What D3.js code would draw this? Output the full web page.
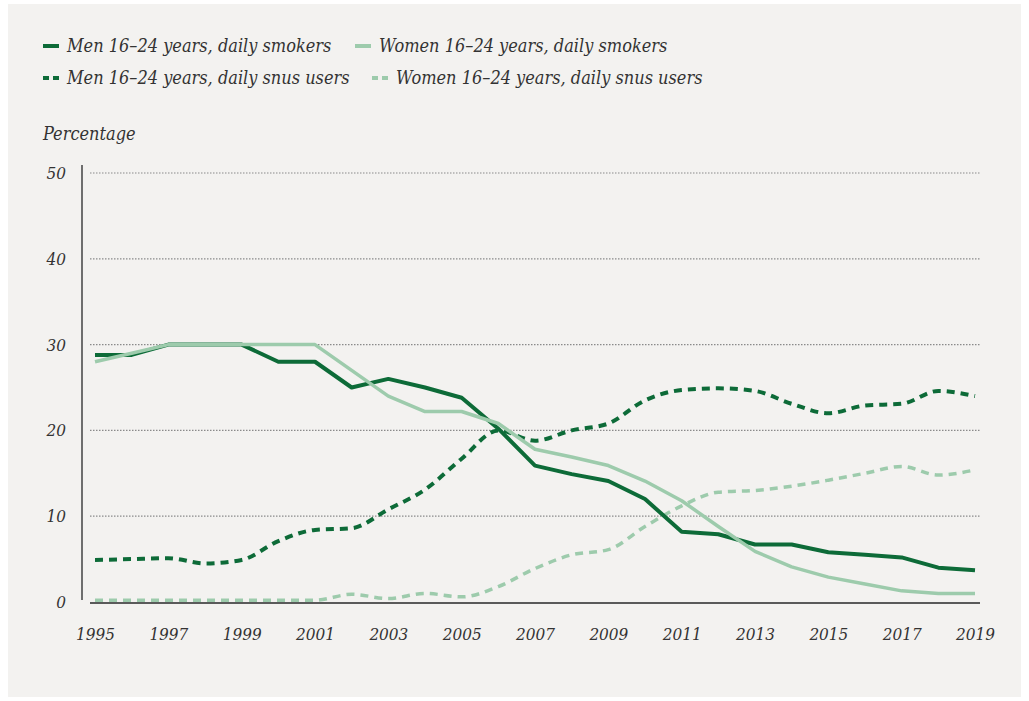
<!DOCTYPE html>
<html>
<head>
<meta charset="utf-8">
<script src="https://cdn.jsdelivr.net/npm/d3@7"></script>
<style>
    html, body { margin: 0; padding: 0; background: #ffffff; }
    svg { display: block; }
    text { font-family: "DejaVu Serif Condensed", "DejaVu Serif", serif; font-style: italic; fill: #333333; }
</style>
</head>
<body>
<div id="chart"></div>
<script>
(function () {

    'use strict';

    var years = [1995, 1996, 1997, 1998, 1999, 2000, 2001, 2002, 2003, 2004, 2005, 2006,
        2007, 2008, 2009, 2010, 2011, 2012, 2013, 2014, 2015, 2016, 2017, 2018, 2019];

    var menSmokers = [28.8, 28.8, 30, 30, 30, 28, 28, 25, 26, 25, 23.8, 20.2,
        15.9, 14.9, 14.1, 12, 8.2, 7.9, 6.7, 6.7, 5.8, 5.5, 5.2, 4.0, 3.7];
    var womenSmokers = [28, 29, 30, 30, 30, 30, 30, 27, 24, 22.2, 22.2, 20.8,
        17.8, 16.9, 15.9, 14.1, 11.8, 8.8, 5.9, 4.1, 2.9, 2.1, 1.3, 1.0, 1.0];
    var menSnus = [4.9, 5, 5.1, 4.5, 4.9, 7.1, 8.4, 8.6, 10.8, 13.1, 16.7, 20,
        18.8, 20, 20.8, 23.5, 24.7, 24.9, 24.6, 23.1, 22, 22.9, 23.1, 24.6, 24];
    var womenSnus = [0.2, 0.2, 0.2, 0.2, 0.2, 0.2, 0.2, 0.9, 0.4, 1.0, 0.6, 1.8,
        3.9, 5.5, 6.1, 8.8, 11.2, 12.8, 13.0, 13.5, 14.2, 15.0, 15.8, 14.8, 15.4];

    var yTicks = [0, 10, 20, 30, 40, 50];
    var xTicks = [1995, 1997, 1999, 2001, 2003, 2005, 2007, 2009, 2011, 2013, 2015, 2017, 2019];

    var darkGreen = '#0d6b38';
    var lightGreen = '#9dcbac';

    var seriesList = [
        { name: 'Men 16–24 years, daily smokers', values: menSmokers, color: darkGreen, dashed: false },
        { name: 'Women 16–24 years, daily smokers', values: womenSmokers, color: lightGreen, dashed: false },
        { name: 'Men 16–24 years, daily snus users', values: menSnus, color: darkGreen, dashed: true },
        { name: 'Women 16–24 years, daily snus users', values: womenSnus, color: lightGreen, dashed: true }
    ];

    var width = 1029;
    var height = 701;

    var svg = d3.select('#chart')
        .append('svg')
            .attr('width', width)
            .attr('height', height);

    // panel background
    svg.append('rect')
        .attr('x', 8)
        .attr('y', 4)
        .attr('width', 1013)
        .attr('height', 693)
        .attr('fill', '#f3f2f0');

    var x = d3.scaleLinear()
        .domain([1995, 2019])
        .range([95, 975]);

    var y = d3.scaleLinear()
        .domain([0, 50])
        .range([602, 173]);

    // grid lines
    svg.append('g')
        .selectAll('line')
        .data(yTicks.filter(function (d) { return d > 0; }))
        .enter()
        .append('line')
            .attr('x1', 90)
            .attr('x2', 980)
            .attr('y1', function (d) { return y(d); })
            .attr('y2', function (d) { return y(d); })
            .attr('stroke', '#8a8a8a')
            .attr('stroke-width', 1.2)
            .attr('stroke-dasharray', '1.5,1.5');

    // y axis
    var yAxis = d3.axisLeft(y)
        .tickValues(yTicks)
        .tickSize(0)
        .tickPadding(0);

    var yAxisG = svg.append('g')
        .attr('transform', 'translate(66,0)')
        .call(yAxis);

    yAxisG.select('.domain').remove();
    yAxisG.selectAll('text')
        .attr('font-size', 17)
        .attr('font-family', null)
        .attr('fill', '#333333');

    svg.append('line')
        .attr('x1', 82)
        .attr('x2', 82)
        .attr('y1', 165)
        .attr('y2', 600)
        .attr('stroke', '#6e6e6e')
        .attr('stroke-width', 2);

    // x axis
    var xAxis = d3.axisBottom(x)
        .tickValues(xTicks)
        .tickFormat(d3.format('d'))
        .tickSize(0)
        .tickPadding(0);

    var xAxisG = svg.append('g')
        .attr('transform', 'translate(0,628)')
        .call(xAxis);

    xAxisG.select('.domain').remove();
    xAxisG.selectAll('text')
        .attr('font-size', 17)
        .attr('font-family', null)
        .attr('fill', '#333333');

    svg.append('line')
        .attr('x1', 90)
        .attr('x2', 980)
        .attr('y1', 603)
        .attr('y2', 603)
        .attr('stroke', '#5a5a5a')
        .attr('stroke-width', 2);

    svg.append('text')
        .attr('x', 43)
        .attr('y', 140)
        .attr('font-size', 18)
        .text('Percentage');

    // lines (snus series are drawn smoothed, smokers straight)
    var straightLine = d3.line()
        .x(function (d, i) { return x(years[i]); })
        .y(function (d) { return y(d); });

    var smoothLine = d3.line()
        .curve(d3.curveMonotoneX)
        .x(function (d, i) { return x(years[i]); })
        .y(function (d) { return y(d); });

    var drawOrder = [3, 2, 0, 1];

    svg.append('g')
        .selectAll('path')
        .data(drawOrder.map(function (i) { return seriesList[i]; }))
        .enter()
        .append('path')
            .attr('d', function (d) { return d.dashed ? smoothLine(d.values) : straightLine(d.values); })
            .attr('fill', 'none')
            .attr('stroke', function (d) { return d.color; })
            .attr('stroke-width', function (d) { return d.color === darkGreen ? 4 : 3.5; })
            .attr('stroke-linejoin', 'round')
            .attr('stroke-dasharray', function (d) { return d.dashed ? '8,6' : null; });

    // legend
    var legendPos = [
        { x: 43, y: 46 },
        { x: 355, y: 46 },
        { x: 43, y: 78 },
        { x: 372, y: 78 }
    ];

    var legendG = svg.append('g')
        .selectAll('g')
        .data(seriesList)
        .enter()
        .append('g')
            .attr('transform', function (d, i) {
                return 'translate(' + legendPos[i].x + ',' + legendPos[i].y + ')';
            });

    legendG.append('line')
        .attr('x1', 0)
        .attr('x2', 16)
        .attr('y1', 0)
        .attr('y2', 0)
        .attr('stroke', function (d) { return d.color; })
        .attr('stroke-width', 4)
        .attr('stroke-dasharray', function (d) { return d.dashed ? '6,4' : null; });

    legendG.append('text')
        .attr('x', 24)
        .attr('y', 6)
        .attr('font-size', 18)
        .text(function (d) { return d.name; });

}());
</script>
</body>
</html>
